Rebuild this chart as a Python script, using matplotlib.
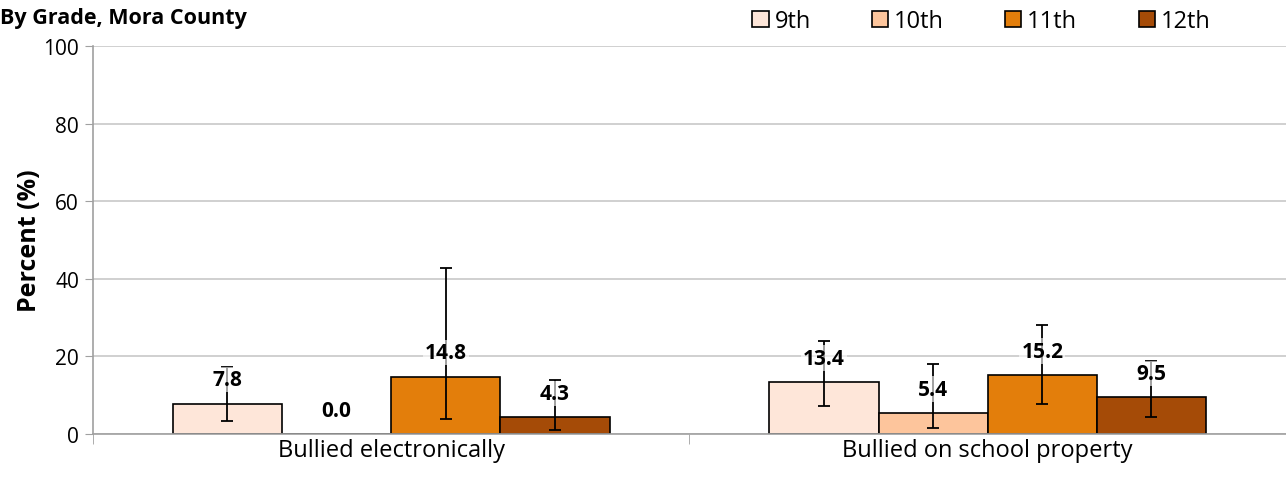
import matplotlib.pyplot as plt
import numpy as np

categorias = ["Bullied electronically", "Bullied on school property"]
grados = ["9th", "10th", "11th", "12th"]
valores = [[7.8, 13.4], [0.0, 5.4], [14.8, 15.2], [4.3, 9.5]]
ic_bajo = [[3.4, 7.1], [0.0, 1.5], [3.9, 7.7], [1.1, 4.4]]
ic_alto = [[17.3, 24.0], [0.0, 18.0], [42.8, 28.0], [14.0, 18.9]]
colores = ["#FEE6D9", "#FDC59C", "#E37E0B", "#A54B07"]

plt.rcParams["font.family"] = ["Open Sans", "DejaVu Sans"]
negrita = ["Open Sans", "DejaVu Sans"]

fig = plt.figure(figsize=(12.86, 4.89), dpi=100)
ax = fig.add_axes([0.0723, 0.1104, 0.9277, 0.7935])

x = np.arange(len(categorias))
ancho = 0.183
for i, g in enumerate(grados):
    pos = x + (i - 1.5) * ancho
    v = np.array(valores[i])
    err = [v - np.array(ic_bajo[i]), np.array(ic_alto[i]) - v]
    ax.bar(pos, v, ancho, color=colores[i], edgecolor="black", linewidth=1.2,
           label=g, zorder=2)
    for j in range(len(categorias)):
        if ic_alto[i][j] > ic_bajo[i][j]:
            ax.errorbar(pos[j], v[j], yerr=[[err[0][j]], [err[1][j]]], fmt="none",
                        ecolor="black", elinewidth=1.3, capsize=4, capthick=1.3, zorder=3)
        ax.annotate(f"{v[j]:.1f}", (pos[j], v[j]), xytext=(0, 24), textcoords="offset pixels",
                    ha="center", va="center", fontsize=15, fontweight="bold", family=negrita,
                    bbox=dict(boxstyle="square,pad=0.1", fc="white", ec="none", alpha=0.6),
                    zorder=4)

ax.set_xlim(-0.5, 1.5)
ax.set_ylim(0, 100)
ax.set_yticks([0, 20, 40, 60, 80, 100])
ax.yaxis.grid(True, color="#C8C8C8", linewidth=1.2, zorder=0)
ax.set_axisbelow(True)
ax.set_xticks(x)
ax.set_xticklabels(categorias, fontsize=17)
ax.set_xticks([-0.5, 0.5, 1.5], minor=True)
ax.tick_params(axis="x", which="major", length=0, pad=3)
ax.tick_params(axis="x", which="minor", length=7, color="#A0A0A0")
ax.tick_params(axis="y", length=6, color="#A0A0A0", labelsize=15, pad=4)
for s in ["top", "right"]:
    ax.spines[s].set_visible(False)
for s in ["left", "bottom"]:
    ax.spines[s].set_color("#A0A0A0")
    ax.spines[s].set_linewidth(1.2)
ax.set_ylabel("Percent (%)", fontsize=18, fontweight="bold", family=negrita, labelpad=1)

fig.text(0.0, 0.962, "By Grade, Mora County", fontsize=15.5, fontweight="bold",
         family=negrita, ha="left", va="center")

ax.legend(loc="center left", bbox_to_anchor=(0.535, 1.064), ncol=4, frameon=False,
          fontsize=17, handlelength=0.68, handleheight=0.68, columnspacing=2.6,
          handletextpad=0.25)

fig.savefig("out.png", dpi=100)
